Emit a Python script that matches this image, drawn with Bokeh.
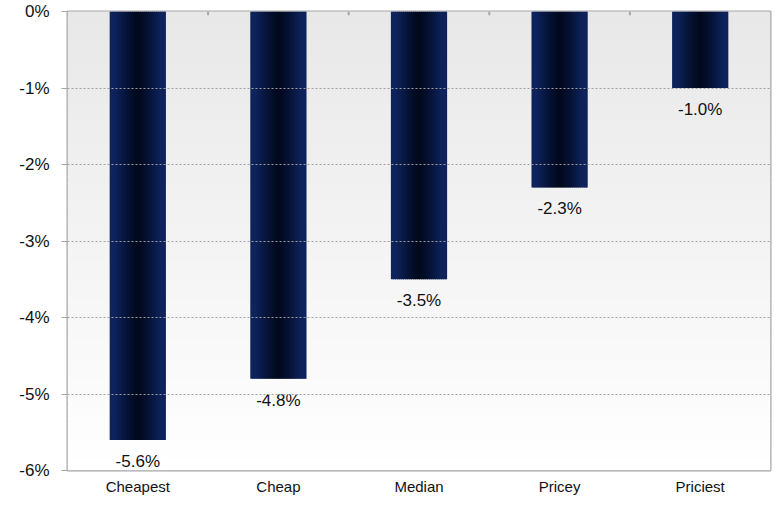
import numpy as np
from bokeh.plotting import figure
from bokeh.models import Range1d, FixedTicker, CustomJSTickFormatter, ColumnDataSource
from bokeh.embed import file_html
from bokeh.resources import INLINE
from bokeh.core.properties import value

categories = ["Cheapest", "Cheap", "Median", "Pricey", "Priciest"]
values = [-5.6, -4.8, -3.5, -2.3, -1.0]
y_ticks = [-6, -5, -4, -3, -2, -1, 0]

FONT = "Liberation Sans"
n = len(categories)

p = figure(width=772, height=497, output_backend="svg", toolbar_location=None,
           x_range=Range1d(0, n), y_range=Range1d(-6, 0),
           min_border_left=67, min_border_right=2, min_border_top=11, min_border_bottom=22)
p.background_fill_color = "white"
p.border_fill_color = "white"
p.outline_line_color = "#a6a6a6"
p.outline_line_width = 2
p.xgrid.visible = False
p.ygrid.grid_line_color = "#a0a0a0"
p.ygrid.grid_line_dash = "2 2"
p.ygrid.grid_line_width = 1
p.ygrid.level = "overlay"

# background vertical gradient (top light gray -> bottom white)
nstrip = 80
edges = np.linspace(-6, 0, nstrip + 1)
cols = []
for i in range(nstrip):
    t = (i + 0.5) / nstrip  # 0 bottom, 1 top
    c = int(round(255 - (255 - 232) * t))
    cols.append("#%02x%02x%02x" % (c, c, c))
p.quad(left=0, right=n, bottom=edges[:-1], top=edges[1:] + 0.01, fill_color=cols,
       line_color=None, level="underlay")

# bars with horizontal gradient
edge_c = np.array([14, 35, 92])
dark_c = np.array([1, 9, 30])
bar_w = 0.40
ns = 28
L, R, T, B, C = [], [], [], [], []
for i, v in enumerate(values):
    cx = i + 0.5
    xs = np.linspace(cx - bar_w / 2, cx + bar_w / 2, ns + 1)
    for k in range(ns):
        pos = (k + 0.5) / ns
        t = abs(pos - 0.5) * 2
        f = min(1.0, t * 1.25) ** 1.3
        col = dark_c + (edge_c - dark_c) * f
        right = xs[k + 1] + (0.008 if k < ns - 1 else 0)
        L.append(xs[k]); R.append(right); T.append(0); B.append(v)
        C.append("#%02x%02x%02x" % tuple(int(round(x)) for x in col))
p.quad(left=L, right=R, top=T, bottom=B, fill_color=C, line_color=None)

# tick marks at top between categories
bx = list(range(1, n))
p.segment(x0=bx, x1=bx, y0=[0] * len(bx), y1=[-0.05] * len(bx), line_color="#a6a6a6", line_width=2)

# data labels
src = ColumnDataSource(dict(x=[i + 0.5 for i in range(n)], y=values,
                            t=["%.1f%%" % v for v in values]))
p.text(x="x", y="y", text="t", source=src, text_align="center", text_baseline="top",
       y_offset=12, text_font=value(FONT), text_font_size="17px", text_color="#111111")

# axes
p.yaxis.ticker = FixedTicker(ticks=y_ticks)
p.yaxis.formatter = CustomJSTickFormatter(code="return tick.toFixed(0) + '%';")
p.yaxis.axis_line_color = None
p.yaxis.major_tick_line_color = "#a6a6a6"
p.yaxis.major_tick_out = 6
p.yaxis.major_tick_in = 0
p.yaxis.minor_tick_line_color = None
p.yaxis.major_label_standoff = 12
p.yaxis.major_label_text_font = FONT
p.yaxis.major_label_text_font_size = "17px"
p.yaxis.major_label_text_color = "#111111"

p.xaxis.ticker = FixedTicker(ticks=[i + 0.5 for i in range(n)])
p.xaxis.formatter = CustomJSTickFormatter(args=dict(labels=categories),
                                          code="return labels[Math.round(tick - 0.5)];")
p.xaxis.axis_line_color = None
p.xaxis.major_tick_line_color = None
p.xaxis.major_tick_out = 0
p.xaxis.major_tick_in = 0
p.xaxis.minor_tick_line_color = None
p.xaxis.minor_tick_out = 0
p.xaxis.major_label_standoff = 7
p.xaxis.major_label_text_font = FONT
p.xaxis.major_label_text_font_size = "15px"
p.xaxis.major_label_text_color = "#111111"

open("out.html", "w").write(file_html(p, INLINE))
